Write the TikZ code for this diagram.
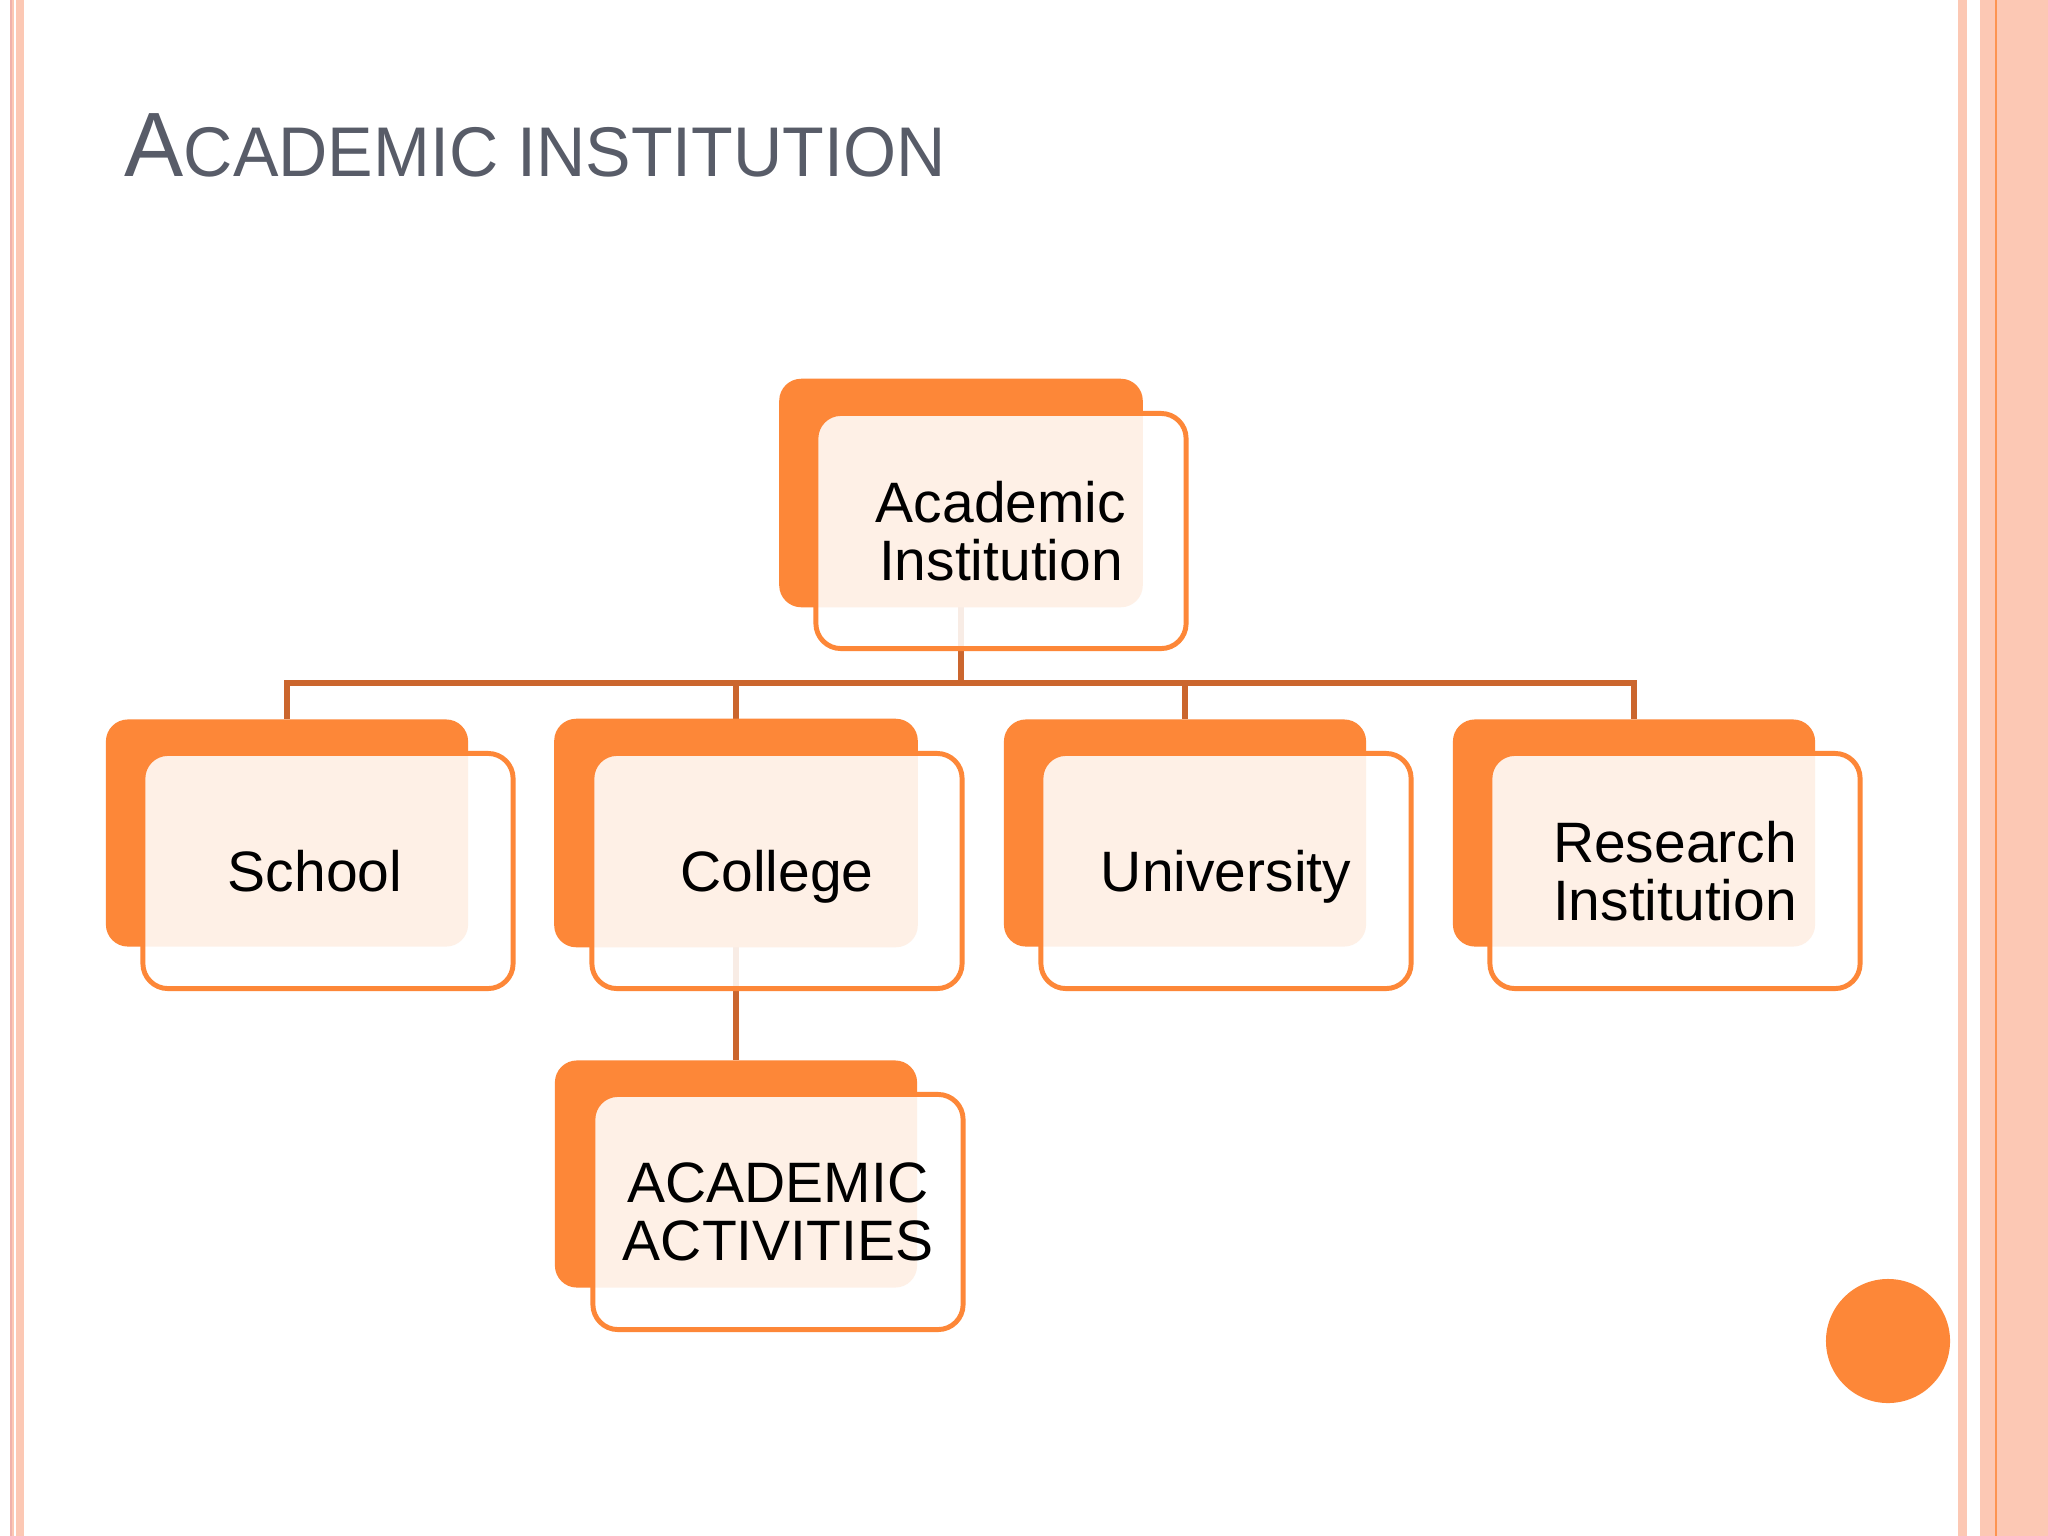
\documentclass[tikz,border=0pt]{standalone}
\usepackage{fontspec}
\usepackage{graphicx}
\setmainfont{Liberation Sans}
\definecolor{orng}{RGB}{253,135,56}
\definecolor{conncol}{RGB}{203,102,46}
\definecolor{peach}{RGB}{252,200,180}
\definecolor{pinkline}{RGB}{240,178,172}
\definecolor{titlegray}{RGB}{88,92,104}
\tikzset{
  backbox/.style={fill=orng, draw=none, rounded corners=0.22cm, minimum width=3.62cm, minimum height=2.27cm, inner sep=0pt},
  frontbox/.style={draw=orng, line width=1.4pt, fill=white, fill opacity=0.88, text opacity=1, text=black,
    rounded corners=0.25cm, minimum width=3.7cm, minimum height=2.35cm, inner sep=0pt, align=center,
    font=\fontsize{16.2}{16.6}\selectfont},
  oneline/.style={text depth=0pt},
  conn/.style={draw=conncol, line width=1.65pt},
}
\begin{document}
\begin{tikzpicture}[x=0.01cm, y=-0.01cm]
\useasboundingbox (0,0) rectangle (2048,1536);
\fill[white] (0,0) rectangle (2048,1536);
% borders
\fill[pinkline] (10,0) rectangle (12,1536);
\fill[peach] (12,0) rectangle (14,1536);
\fill[peach] (16,0) rectangle (24,1536);
\fill[peach] (1958,0) rectangle (1967,1536);
\fill[peach] (1980,0) rectangle (2048,1536);
\fill[orng!80!peach] (1995,0) rectangle (1997,1536);
% title
\node[anchor=base west, inner sep=0pt, text=titlegray] (title) at (124,176)
  {\scalebox{0.97}[1]{\fontsize{26}{26}\selectfont A\fontsize{20}{20}\selectfont CADEMIC INSTITUTION}};
% back boxes (named) first for connector anchors
\node[backbox] (topb) at (961,493) {};
\node[backbox] (schoolb) at (287,833) {};
\node[backbox] (collegeb) at (736,833) {};
\node[backbox] (univb) at (1185,833) {};
\node[backbox] (resb) at (1634,833) {};
\node[backbox] (actb) at (736,1174) {};
\coordinate (bus) at (961,683);
% connectors (behind front boxes)
\draw[conn] (topb.center) -- (bus);
\draw[conn] (schoolb.north) |- (bus) -| (resb.north);
\draw[conn] (collegeb.north) -- (collegeb.north |- bus);
\draw[conn] (univb.north) -- (univb.north |- bus);
\draw[conn] (collegeb.center) -- (actb.north);
% redraw back boxes over connectors
\fill[orng, rounded corners=0.22cm] (topb.south west) rectangle (topb.north east);
\fill[orng, rounded corners=0.22cm] (collegeb.south west) rectangle (collegeb.north east);
% front boxes
\node[frontbox] (topf) at (1001,531) {Academic\\Institution};
\node[frontbox] (schoolf) at (328,871) {};
\node[oneline, text=black, font=\fontsize{16.2}{16.6}\selectfont] (schooltxt) at (315,871) {School};
\node[frontbox, oneline] (collegef) at (777,871) {College};
\node[frontbox, oneline] (univf) at (1226,871) {University};
\node[frontbox] (resf) at (1675,871) {Research\\Institution};
\node[frontbox] (actf) at (778,1212) {ACADEMIC\\ACTIVITIES};
% circle
\fill[orng] (1888,1341) circle[radius=0.62cm];
\end{tikzpicture}
\end{document}
